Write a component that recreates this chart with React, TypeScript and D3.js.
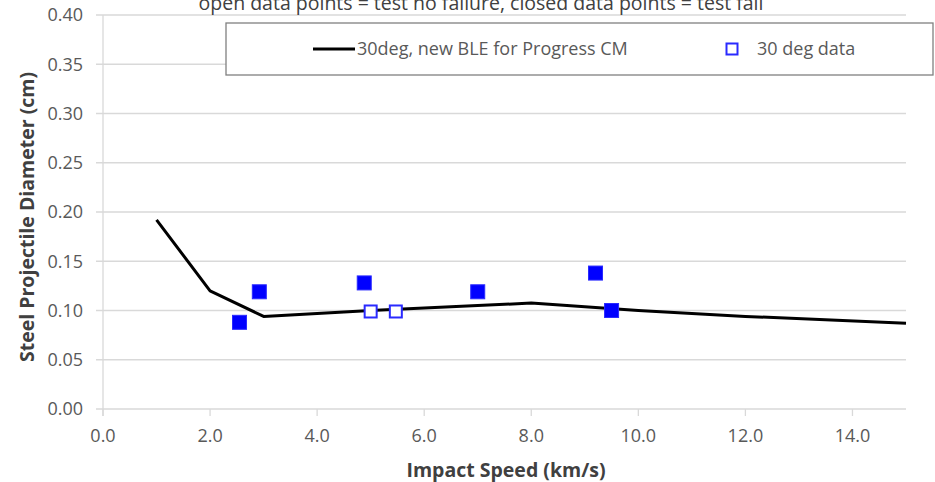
import React, { useEffect, useRef } from "react";
import * as d3 from "d3";

const lineX = [1, 2, 3, 5, 7, 8, 10, 12, 15];
const lineY = [0.192, 0.12, 0.094, 0.1, 0.105, 0.1075, 0.1, 0.094, 0.087];
const failX = [2.55, 2.92, 4.88, 7.0, 9.2, 9.5];
const failY = [0.088, 0.119, 0.128, 0.119, 0.138, 0.1];
const passX = [5.0, 5.47];
const passY = [0.099, 0.099];
const xTicks = [0, 2, 4, 6, 8, 10, 12, 14];
const yTicks = [0, 0.05, 0.1, 0.15, 0.2, 0.25, 0.3, 0.35, 0.4];
const title = "open data points = test no failure, closed data points = test fail";
const xTitle = "Impact Speed (km/s)";
const yTitle = "Steel Projectile Diameter (cm)";
const lineName = "30deg, new BLE for Progress CM";
const pointName = "30 deg data";

const W = 935;
const H = 482;
const FONT = "'Open Sans', sans-serif";

export default function App() {
  const ref = useRef<SVGSVGElement>(null);
  useEffect(() => {
    const svg = d3.select(ref.current);
    svg.selectAll("*").remove();
    const x = d3.scaleLinear().domain([0, 15]).range([103, 906]);
    const y = d3.scaleLinear().domain([0, 0.4]).range([409, 15]);
    const grid = "#d9d9d9";
    const text = "#595959";

    // gridlines
    svg.append("g").selectAll("line").data(yTicks).join("line")
      .attr("x1", 96).attr("x2", 906)
      .attr("y1", (d) => y(d)).attr("y2", (d) => y(d))
      .attr("stroke", grid).attr("stroke-width", 1.3);
    // y axis line
    svg.append("line").attr("x1", x(0)).attr("x2", x(0))
      .attr("y1", y(0.4)).attr("y2", y(0) + 7)
      .attr("stroke", grid).attr("stroke-width", 1.3);
    // x ticks
    svg.append("g").selectAll("line").data(xTicks).join("line")
      .attr("x1", (d) => x(d)).attr("x2", (d) => x(d))
      .attr("y1", y(0)).attr("y2", y(0) + 7)
      .attr("stroke", grid).attr("stroke-width", 1.3);

    // y tick labels
    svg.append("g").selectAll("text").data(yTicks).join("text")
      .attr("x", 83).attr("y", (d) => y(d)).attr("dy", "0.35em")
      .attr("text-anchor", "end").attr("fill", text)
      .style("font-family", FONT).style("font-size", "18px")
      .text((d) => d3.format(".2f")(d));
    // x tick labels
    svg.append("g").selectAll("text").data(xTicks).join("text")
      .attr("x", (d) => x(d)).attr("y", 436).attr("dy", "0.35em")
      .attr("text-anchor", "middle").attr("fill", text)
      .style("font-family", FONT).style("font-size", "18px")
      .text((d) => d3.format(".1f")(d));

    // title
    svg.append("text").attr("x", 481).attr("y", 10)
      .attr("text-anchor", "middle").attr("fill", "#404040")
      .style("font-family", FONT).style("font-size", "19.5px")
      .text(title);

    // axis titles
    svg.append("text").attr("x", 506).attr("y", 477)
      .attr("text-anchor", "middle").attr("fill", "#404040")
      .style("font-family", FONT).style("font-size", "19.5px").style("font-weight", "bold")
      .text(xTitle);
    svg.append("text").attr("transform", "translate(34,217) rotate(-90)")
      .attr("text-anchor", "middle").attr("fill", "#404040")
      .style("font-family", FONT).style("font-size", "19.5px").style("font-weight", "bold")
      .text(yTitle);

    // line
    const pts = lineX.map((v, i) => [v, lineY[i]] as [number, number]);
    svg.append("path")
      .attr("d", d3.line().x((d) => x(d[0])).y((d) => y(d[1]))(pts))
      .attr("fill", "none").attr("stroke", "#000").attr("stroke-width", 3)
      .attr("stroke-linejoin", "round");

    const s = 14;
    // filled
    svg.append("g").selectAll("rect").data(failX.map((v, i) => [v, failY[i]])).join("rect")
      .attr("x", (d) => x(d[0]) - s / 2).attr("y", (d) => y(d[1]) - s / 2)
      .attr("width", s).attr("height", s)
      .attr("fill", "#0000ff").attr("stroke", "#2a2aff").attr("stroke-width", 1);
    // open
    svg.append("g").selectAll("rect").data(passX.map((v, i) => [v, passY[i]])).join("rect")
      .attr("x", (d) => x(d[0]) - (s - 2) / 2).attr("y", (d) => y(d[1]) - (s - 2) / 2)
      .attr("width", s - 2).attr("height", s - 2)
      .attr("fill", "#fff").attr("stroke", "#2a2aff").attr("stroke-width", 2);

    // legend
    const lg = svg.append("g");
    lg.append("rect").attr("x", 226).attr("y", 23).attr("width", 707).attr("height", 52)
      .attr("fill", "#fff").attr("stroke", "#808080").attr("stroke-width", 1.3);
    lg.append("line").attr("x1", 313).attr("x2", 355).attr("y1", 49).attr("y2", 49)
      .attr("stroke", "#000").attr("stroke-width", 3);
    lg.append("text").attr("x", 357).attr("y", 49).attr("dy", "0.35em").attr("fill", text)
      .style("font-family", FONT).style("font-size", "18px").text(lineName);
    lg.append("rect").attr("x", 732 - 5.5).attr("y", 49 - 5.5).attr("width", 11).attr("height", 11)
      .attr("fill", "#fff").attr("stroke", "#2a2aff").attr("stroke-width", 2);
    lg.append("text").attr("x", 757).attr("y", 49).attr("dy", "0.35em").attr("fill", text)
      .style("font-family", FONT).style("font-size", "18px").text(pointName);
  }, []);
  return (
    <svg ref={ref} width={W} height={H}
      style={{ position: "absolute", left: 0, top: 0, background: "#fff" }} />
  );
}
